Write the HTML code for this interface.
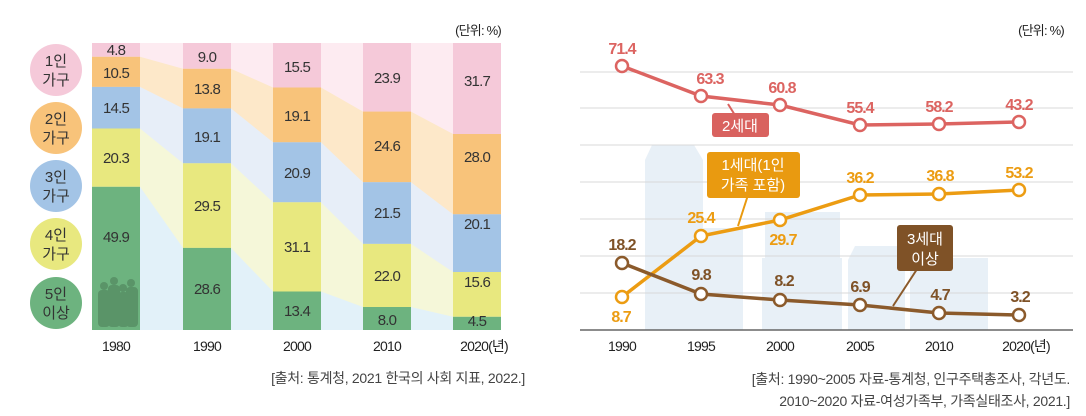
<!DOCTYPE html><html><head><meta charset="utf-8"><style>
body{margin:0;background:#fff}
svg{display:block;font-family:"Liberation Sans","Noto Sans CJK KR",sans-serif}
</style></head><body>
<svg width="1086" height="416" viewBox="0 0 1086 416">
<g>
<polygon fill="#fdebf1" points="92,43 501,43 501,330 92,330"/>
<polygon fill="#fde8c9" points="92,56.8 140,56.8 183,68.8 231,68.8 273,87.5 321,87.5 363,111.6 411,111.6 453,134 501,134 501,330 92,330"/>
<polygon fill="#e7eef8" points="92,86.9 140,86.9 183,108.4 231,108.4 273,142.3 321,142.3 363,182.2 411,182.2 453,214.3 501,214.3 501,330 92,330"/>
<polygon fill="#f5f7d9" points="92,128.5 140,128.5 183,163.3 231,163.3 273,202.3 321,202.3 363,243.9 411,243.9 453,272 501,272 501,330 92,330"/>
<polygon fill="#e2f1f9" points="92,186.8 140,186.8 183,247.9 231,247.9 273,291.5 321,291.5 363,307 411,307 453,316.8 501,316.8 501,330 92,330"/>
</g>
<g>
<rect x="92" y="43" width="48" height="13.8" fill="#f5c9d9"/><rect x="92" y="56.8" width="48" height="30.1" fill="#f8c37a"/><rect x="92" y="86.9" width="48" height="41.6" fill="#a3c4e6"/><rect x="92" y="128.5" width="48" height="58.3" fill="#e8e87f"/><rect x="92" y="186.8" width="48" height="143.2" fill="#6db37f"/>
<rect x="183" y="43" width="48" height="25.8" fill="#f5c9d9"/><rect x="183" y="68.8" width="48" height="39.6" fill="#f8c37a"/><rect x="183" y="108.4" width="48" height="54.9" fill="#a3c4e6"/><rect x="183" y="163.3" width="48" height="84.6" fill="#e8e87f"/><rect x="183" y="247.9" width="48" height="82.1" fill="#6db37f"/>
<rect x="273" y="43" width="48" height="44.5" fill="#f5c9d9"/><rect x="273" y="87.5" width="48" height="54.8" fill="#f8c37a"/><rect x="273" y="142.3" width="48" height="60" fill="#a3c4e6"/><rect x="273" y="202.3" width="48" height="89.2" fill="#e8e87f"/><rect x="273" y="291.5" width="48" height="38.5" fill="#6db37f"/>
<rect x="363" y="43" width="48" height="68.6" fill="#f5c9d9"/><rect x="363" y="111.6" width="48" height="70.6" fill="#f8c37a"/><rect x="363" y="182.2" width="48" height="61.7" fill="#a3c4e6"/><rect x="363" y="243.9" width="48" height="63.1" fill="#e8e87f"/><rect x="363" y="307" width="48" height="23" fill="#6db37f"/>
<rect x="453" y="43" width="48" height="91" fill="#f5c9d9"/><rect x="453" y="134" width="48" height="80.3" fill="#f8c37a"/><rect x="453" y="214.3" width="48" height="57.7" fill="#a3c4e6"/><rect x="453" y="272" width="48" height="44.8" fill="#e8e87f"/><rect x="453" y="316.8" width="48" height="13.2" fill="#6db37f"/>
</g>
<g fill="#5a9468">
<rect x="98" y="290" width="12" height="37" rx="4"/><rect x="108" y="285" width="12" height="42" rx="4"/><rect x="118" y="292" width="11" height="35" rx="4"/><rect x="126" y="287" width="12" height="40" rx="4"/>
<circle cx="104" cy="286" r="4"/><circle cx="114" cy="281" r="4"/><circle cx="123" cy="288" r="4"/><circle cx="131" cy="283" r="4"/>
</g>
<g font-size="15" fill="#333" text-anchor="middle" letter-spacing="-0.8">
<text x="116" y="55">4.8</text><text x="116" y="78">10.5</text><text x="116" y="113">14.5</text><text x="116" y="163">20.3</text><text x="116" y="242">49.9</text>
<text x="207" y="62">9.0</text><text x="207" y="94">13.8</text><text x="207" y="142">19.1</text><text x="207" y="211">29.5</text><text x="207" y="294">28.6</text>
<text x="297" y="72">15.5</text><text x="297" y="121">19.1</text><text x="297" y="178">20.9</text><text x="297" y="252">31.1</text><text x="297" y="316">13.4</text>
<text x="387" y="83">23.9</text><text x="387" y="151">24.6</text><text x="387" y="218">21.5</text><text x="387" y="281">22.0</text><text x="387" y="325">8.0</text>
<text x="477" y="86">31.7</text><text x="477" y="162">28.0</text><text x="477" y="229">20.1</text><text x="477" y="287">15.6</text><text x="477" y="326">4.5</text>
</g>
<g font-size="15" fill="#333" text-anchor="middle">
<circle cx="56" cy="70" r="26" fill="#f5c9d9"/><text x="56" y="66">1인</text><text x="56" y="85">가구</text>
<circle cx="56" cy="128" r="26" fill="#f8c37a"/><text x="56" y="124">2인</text><text x="56" y="143">가구</text>
<circle cx="56" cy="186" r="26" fill="#a3c4e6"/><text x="56" y="182">3인</text><text x="56" y="201">가구</text>
<circle cx="56" cy="244" r="26" fill="#e8e87f"/><text x="56" y="240">4인</text><text x="56" y="259">가구</text>
<circle cx="56" cy="303" r="26" fill="#6db37f"/><text x="56" y="299">5인</text><text x="56" y="318">이상</text>
</g>
<g font-size="14" fill="#222" text-anchor="middle" letter-spacing="-0.8">
<text x="116" y="351">1980</text><text x="207" y="351">1990</text><text x="297" y="351">2000</text><text x="387" y="351">2010</text><text x="484" y="351">2020(년)</text>
<text x="478" y="35" font-size="13">(단위: %)</text>
</g>
<text x="525" y="383" font-size="14" fill="#444" text-anchor="end" letter-spacing="-0.3">[출처: 통계청, 2021 한국의 사회 지표, 2022.]</text>

<g fill="#e8f0f7">
<polygon points="645,160 652,145 694,145 703,160 703,330 645,330"/>
<rect x="703" y="228" width="40" height="102"/>
<rect x="765" y="212" width="75" height="118"/>
<rect x="762" y="258" width="80" height="72"/>
<polygon points="848,260 855,246 900,246 905,260 905,330 848,330"/>
<rect x="910" y="258" width="78" height="72"/>
</g>
<g stroke="#d8d8d8" stroke-width="1">
<line x1="580" y1="72" x2="1073" y2="72"/><line x1="580" y1="108" x2="1073" y2="108"/><line x1="580" y1="145" x2="1073" y2="145"/><line x1="580" y1="182" x2="1073" y2="182"/><line x1="580" y1="219" x2="1073" y2="219"/><line x1="580" y1="256" x2="1073" y2="256"/><line x1="580" y1="293" x2="1073" y2="293"/>
</g>
<line x1="580" y1="330" x2="1073" y2="330" stroke="#666" stroke-width="1.5"/>
<line x1="728" y1="104" x2="738" y2="120" stroke="#d9625f" stroke-width="2"/>
<rect x="712" y="113" width="57" height="24" rx="3" fill="#d9625f"/>
<text x="740" y="131" font-size="15" fill="#fff" text-anchor="middle">2세대</text>
<line x1="748" y1="195" x2="738" y2="226" stroke="#e99a10" stroke-width="2"/>
<rect x="707" y="152" width="93" height="46" rx="3" fill="#e99a10"/>
<text x="753" y="170" font-size="15" fill="#fff" text-anchor="middle">1세대(1인</text>
<text x="753" y="190" font-size="15" fill="#fff" text-anchor="middle">가족 포함)</text>
<line x1="923" y1="260" x2="893" y2="306" stroke="#8b5a2b" stroke-width="2"/>
<rect x="897" y="225" width="56" height="46" rx="3" fill="#7f5227"/>
<text x="925" y="244" font-size="15" fill="#fff" text-anchor="middle">3세대</text>
<text x="925" y="264" font-size="15" fill="#fff" text-anchor="middle">이상</text>
<g fill="none" stroke-width="3.5">
<polyline stroke="#dc6461" points="622,66 701,96 780,105 860,125 939,124 1019,122"/>
<polyline stroke="#ec9c12" points="622,297 701,236 780,220 860,195 939,194 1019,190"/>
<polyline stroke="#8b5a2b" points="622,263 701,294 780,300 860,305 939,313 1019,315"/>
</g>
<g fill="#fff" stroke-width="2.5">
<g stroke="#dc6461"><circle cx="622" cy="66" r="6"/><circle cx="701" cy="96" r="6"/><circle cx="780" cy="105" r="6"/><circle cx="860" cy="125" r="6"/><circle cx="939" cy="124" r="6"/><circle cx="1019" cy="122" r="6"/></g>
<g stroke="#ec9c12"><circle cx="622" cy="297" r="6"/><circle cx="701" cy="236" r="6"/><circle cx="780" cy="220" r="6"/><circle cx="860" cy="195" r="6"/><circle cx="939" cy="194" r="6"/><circle cx="1019" cy="190" r="6"/></g>
<g stroke="#8b5a2b"><circle cx="622" cy="263" r="6"/><circle cx="701" cy="294" r="6"/><circle cx="780" cy="300" r="6"/><circle cx="860" cy="305" r="6"/><circle cx="939" cy="313" r="6"/><circle cx="1019" cy="315" r="6"/></g>
</g>
<g font-size="16" font-weight="bold" text-anchor="middle" letter-spacing="-1">
<g fill="#dc6461"><text x="622" y="54">71.4</text><text x="710" y="84">63.3</text><text x="782" y="93">60.8</text><text x="860" y="113">55.4</text><text x="939" y="112">58.2</text><text x="1019" y="110">43.2</text></g>
<g fill="#ec9c12"><text x="621" y="322">8.7</text><text x="701" y="223">25.4</text><text x="783" y="245">29.7</text><text x="860" y="183">36.2</text><text x="940" y="181">36.8</text><text x="1019" y="178">53.2</text></g>
<g fill="#7f5227"><text x="622" y="250">18.2</text><text x="701" y="280">9.8</text><text x="784" y="286">8.2</text><text x="860" y="292">6.9</text><text x="940" y="300">4.7</text><text x="1020" y="302">3.2</text></g>
</g>
<g font-size="14" fill="#222" text-anchor="middle" letter-spacing="-0.8">
<text x="622" y="351">1990</text><text x="701" y="351">1995</text><text x="780" y="351">2000</text><text x="860" y="351">2005</text><text x="939" y="351">2010</text><text x="1026" y="351">2020(년)</text>
<text x="1041" y="35" font-size="13">(단위: %)</text>
</g>
<text x="1070" y="384" font-size="14" fill="#444" text-anchor="end" letter-spacing="-0.3">[출처: 1990~2005 자료-통계청, 인구주택총조사, 각년도.</text>
<text x="1070" y="406" font-size="14" fill="#444" text-anchor="end" letter-spacing="-0.3">2010~2020 자료-여성가족부, 가족실태조사, 2021.]</text>
</svg>
</body></html>
